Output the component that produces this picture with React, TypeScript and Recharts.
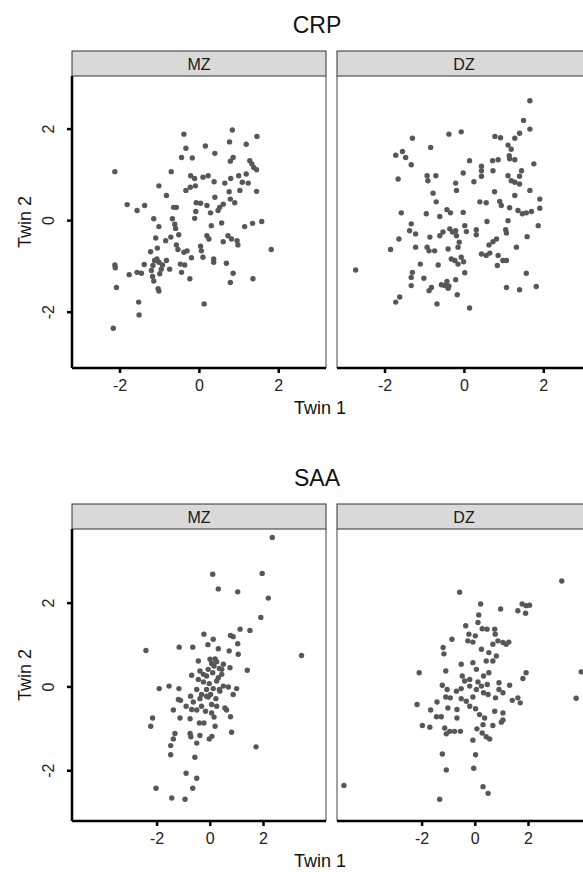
import { Scatter, ScatterChart, XAxis, YAxis } from 'recharts'

// twin pairs: [Twin 1, Twin 2]
const crpMz: [number, number][] = [
  [-2.13, 1.07], [-0.39, 1.89], [0.83, 1.98], [1.45, 1.84], [-0.34, 1.58], [0.15, 1.63], [0.76, 1.72], [1.18, 1.67], [-0.45, 1.38], [-0.18, 1.37],
  [0.39, 1.47], [0.85, 1.38], [0.78, 1.3], [1.27, 1.31], [1.32, 1.24], [1.37, 1.16], [1.44, 1.11], [-0.71, 1.07], [-0.22, 0.98], [-0.12, 0.92],
  [0.09, 0.95], [0.22, 0.98], [0.37, 0.85], [0.64, 0.82], [0.79, 0.92], [0.99, 0.98], [1.18, 1.02], [1.08, 0.84], [1.23, 0.82], [-1.02, 0.76],
  [-0.34, 0.66], [-0.23, 0.73], [-0.1, 0.76], [0.39, 0.51], [0.75, 0.63], [1.02, 0.66], [1.44, 0.64], [-0.83, 0.55], [0.78, 0.47], [0.89, 0.39],
  [0.6, 0.36], [0.51, 0.29], [0.47, 0.22], [-1.82, 0.35], [-1.57, 0.22], [-1.38, 0.33], [-0.65, 0.29], [-0.58, 0.29], [-0.08, 0.39], [0.03, 0.38],
  [0.19, 0.33], [-0.09, 0.2], [0.28, 0.17], [-0.68, 0.04], [-0.62, -0.08], [-0.6, -0.17], [-1.15, 0.04], [-1.02, -0.13], [-0.12, 0.05], [0.3, -0.11],
  [0.56, -0.05], [1.14, -0.13], [1.34, -0.06], [1.57, -0.02], [-1.1, -0.38], [-0.85, -0.44], [-0.72, -0.36], [-0.52, -0.31], [0.19, -0.33], [0.24, -0.4],
  [0.6, -0.46], [0.72, -0.33], [0.81, -0.4], [0.95, -0.44], [0.97, -0.53], [1.81, -0.63], [-1.23, -0.68], [-1.06, -0.6], [-0.58, -0.53], [-0.54, -0.63],
  [-0.39, -0.69], [-0.31, -0.66], [0.03, -0.56], [0.05, -0.66], [-0.2, -0.81], [0.09, -0.8], [0.36, -0.84], [0.36, -0.91], [0.68, -0.93], [-1.39, -0.96],
  [-2.13, -0.97], [-2.12, -1.03], [-1.77, -1.18], [-1.57, -1.13], [-1.46, -1.15], [-1.21, -1.09], [-1.18, -1.22], [-1.07, -0.84], [-1.02, -0.91], [-0.96, -1.06],
  [-1.0, -1.16], [-0.83, -0.87], [-0.75, -1.06], [-0.48, -0.95], [-0.37, -0.97], [-0.45, -1.13], [-0.24, -1.27], [0.85, -1.15], [0.78, -1.35], [1.35, -1.27],
  [-2.09, -1.46], [-1.15, -1.32], [-1.04, -1.49], [-1.02, -1.54], [-1.53, -1.78], [-1.52, -2.06], [0.12, -1.82], [-2.17, -2.35], [-1.17, -0.98], [-1.13, -0.87],
  [-0.93, -0.97],
]

const crpDz: [number, number][] = [
  [1.65, 2.62], [1.49, 2.19], [1.65, 2.0], [1.39, 1.91], [1.27, 1.8], [-1.31, 1.8], [-0.39, 1.89], [-0.08, 1.94], [0.77, 1.84], [0.91, 1.81],
  [1.1, 1.65], [1.18, 1.56], [-0.85, 1.6], [-1.73, 1.43], [-1.56, 1.51], [-1.48, 1.38], [-1.34, 1.22], [-1.67, 0.91], [0.13, 1.31], [0.43, 1.19],
  [0.43, 1.09], [0.71, 1.31], [0.85, 1.33], [1.13, 1.42], [1.14, 1.35], [1.27, 1.33], [1.75, 1.24], [0.72, 1.09], [0.43, 0.97], [-0.03, 1.04],
  [0.24, 0.85], [-0.94, 0.98], [-0.72, 0.98], [-0.92, 0.87], [-0.22, 0.82], [-0.2, 0.66], [1.1, 0.98], [1.18, 0.87], [1.44, 1.09], [1.39, 0.97],
  [1.27, 0.84], [1.39, 0.8], [0.76, 0.63], [1.65, 0.66], [-0.79, 0.6], [-0.71, 0.41], [0.39, 0.41], [0.55, 0.39], [0.89, 0.42], [0.93, 0.33],
  [1.14, 0.28], [1.27, 0.55], [1.9, 0.47], [1.9, 0.27], [1.35, 0.22], [1.46, 0.15], [1.56, 0.17], [1.69, 0.2], [-1.59, 0.17], [-0.96, 0.15],
  [-0.62, 0.09], [-0.44, 0.24], [-0.35, 0.17], [-0.03, 0.18], [0.57, -0.02], [1.1, 0.0], [1.86, -0.11], [-1.34, -0.07], [-1.38, -0.22], [-1.23, -0.29],
  [-0.87, -0.36], [-0.62, -0.33], [-0.54, -0.25], [-0.37, -0.18], [-0.3, -0.25], [-0.22, -0.22], [-0.2, -0.33], [-0.13, -0.47], [0.01, -0.11], [0.05, -0.24],
  [0.3, -0.2], [0.3, -0.31], [1.04, -0.2], [1.06, -0.27], [1.58, -0.35], [-1.65, -0.4], [-1.86, -0.63], [-1.23, -0.58], [-0.94, -0.58], [-0.89, -0.66],
  [-0.75, -0.66], [-0.41, -0.62], [-0.16, -0.58], [0.81, -0.4], [0.72, -0.46], [0.62, -0.53], [1.31, -0.58], [0.43, -0.73], [0.55, -0.76], [0.64, -0.71],
  [0.85, -0.76], [0.97, -0.87], [1.06, -0.87], [-1.11, -0.95], [-0.66, -0.97], [-0.33, -0.84], [-0.24, -0.87], [-0.08, -0.8], [-0.02, -0.9], [-0.16, -0.95],
  [0.83, -0.98], [-2.74, -1.08], [-1.31, -1.13], [-1.34, -1.24], [-1.34, -1.42], [-1.02, -1.26], [-0.89, -1.53], [-0.83, -1.46], [-0.58, -1.4], [-0.5, -1.42],
  [-0.44, -1.33], [-0.39, -1.43], [-0.22, -1.29], [0.01, -1.14], [1.56, -1.15], [1.06, -1.46], [1.39, -1.51], [1.81, -1.44], [-1.63, -1.67], [-1.73, -1.78],
  [-0.69, -1.82], [-0.18, -1.62], [0.13, -1.91], [-0.41, -1.48],
]

const saaMz: [number, number][] = [
  [2.33, 3.57], [0.09, 2.69], [1.95, 2.71], [0.3, 2.34], [1.03, 2.27], [2.18, 2.12], [1.9, 1.66], [1.12, 1.38], [1.49, 1.35], [-0.24, 1.26],
  [0.11, 1.14], [0.76, 1.23], [0.86, 1.2], [1.03, 1.03], [-2.42, 0.87], [-1.17, 0.95], [-0.66, 0.95], [-0.09, 1.01], [0.3, 0.91], [0.71, 0.86],
  [1.05, 0.78], [3.43, 0.75], [-0.45, 0.62], [-0.01, 0.66], [0.18, 0.67], [0.24, 0.6], [0.49, 0.54], [0.74, 0.46], [0.14, 0.5], [-0.08, 0.42],
  [1.39, 0.4], [-0.7, 0.28], [-0.39, 0.38], [-0.14, 0.26], [0.09, 0.34], [0.43, 0.3], [-1.92, -0.04], [-1.55, 0.02], [-1.18, -0.04], [-0.45, 0.18],
  [-0.26, 0.12], [-0.04, 0.08], [0.24, 0.14], [0.49, 0.02], [0.68, 0.0], [0.99, -0.04], [0.86, -0.18], [-0.51, -0.06], [-0.14, -0.06], [0.11, -0.04],
  [0.36, -0.1], [-0.74, -0.22], [-1.2, -0.3], [-1.12, -0.32], [-0.64, -0.36], [-0.39, -0.28], [-0.08, -0.24], [0.21, -0.28], [0.05, -0.42], [0.24, -0.46],
  [0.55, -0.5], [-1.39, -0.55], [-0.7, -0.54], [-0.51, -0.55], [-0.18, -0.58], [0.61, -0.55], [-2.17, -0.74], [-1.14, -0.74], [-0.76, -0.76], [-0.41, -0.86],
  [-0.24, -0.86], [0.18, -0.94], [0.76, -0.71], [-2.24, -0.94], [-1.33, -1.11], [-1.39, -1.24], [-0.76, -1.11], [-0.73, -1.19], [-0.51, -1.34], [-0.39, -1.16],
  [-0.04, -1.24], [0.06, -1.18], [0.8, -1.08], [1.72, -1.43], [-1.49, -1.4], [-1.49, -1.62], [-0.58, -1.68], [-0.91, -2.06], [-0.51, -2.18], [-2.04, -2.42],
  [-0.66, -2.42], [-1.45, -2.65], [-0.95, -2.68], [-0.14, -0.22], [0.3, 0.22], [0.43, 0.42], [-0.91, -0.46], [-0.33, -0.18], [0.14, -0.72], [0.05, -0.62],
  [0.05, 0.56], [0.34, 0.44], [-0.26, 0.3], [0.01, -0.18], [-0.33, -0.46], [0.34, -0.06],
]

const saaDz: [number, number][] = [
  [3.25, 2.53], [-0.59, 2.26], [0.2, 1.98], [0.95, 1.86], [1.6, 1.82], [1.76, 1.98], [1.91, 1.94], [2.04, 1.95], [1.89, 1.76], [0.13, 1.72],
  [0.1, 1.54], [-0.36, 1.46], [0.26, 1.39], [0.44, 1.38], [0.73, 1.38], [0.75, 1.26], [-0.24, 1.26], [0.0, 1.22], [0.66, 1.02], [0.85, 1.1],
  [1.04, 1.06], [1.26, 1.07], [1.16, 1.02], [-0.88, 1.14], [-1.21, 0.94], [-1.18, 0.79], [-0.28, 1.1], [-0.09, 1.07], [0.23, 0.9], [0.51, 0.82],
  [0.79, 0.74], [0.66, 0.62], [0.41, 0.62], [-2.11, 0.34], [-1.11, 0.38], [-0.53, 0.54], [-0.09, 0.58], [0.04, 0.42], [-0.49, 0.26], [-0.4, 0.14],
  [-0.21, 0.18], [0.1, 0.12], [0.31, 0.26], [0.51, 0.34], [1.91, 0.34], [1.79, 0.2], [3.98, 0.36], [-1.24, 0.04], [-1.06, -0.06], [-0.71, -0.1],
  [-0.53, -0.04], [-0.21, 0.02], [0.04, -0.06], [0.23, 0.02], [0.45, 0.06], [0.89, 0.1], [0.89, -0.06], [1.29, 0.04], [-2.19, -0.42], [-1.44, -0.36],
  [-1.11, -0.24], [-0.94, -0.26], [-0.53, -0.28], [-0.34, -0.34], [-0.09, -0.24], [0.31, -0.14], [0.48, -0.18], [0.76, -0.26], [1.04, -0.14], [1.39, -0.32],
  [1.6, -0.26], [1.69, -0.38], [3.79, -0.27], [-1.68, -0.55], [-1.46, -0.71], [-1.28, -0.71], [-1.03, -0.5], [-0.69, -0.54], [-0.69, -0.74], [-0.21, -0.46],
  [0.01, -0.52], [0.16, -0.66], [0.35, -0.74], [0.73, -0.58], [1.04, -0.62], [1.04, -0.79], [-1.99, -0.92], [-1.71, -0.96], [-1.15, -0.98], [-0.96, -1.06],
  [-0.78, -1.06], [-0.56, -1.06], [0.06, -1.0], [0.29, -0.9], [0.66, -0.92], [0.98, -0.84], [-1.09, -1.12], [-0.09, -1.27], [0.26, -1.1], [0.41, -1.19],
  [0.54, -1.24], [-1.24, -1.6], [0.01, -1.62], [-1.09, -1.98], [-0.06, -1.94], [-4.94, -2.35], [0.29, -2.38], [0.48, -2.54], [-1.34, -2.68],
]

const ticks = [-2, 0, 2]
const crpXDomain = [-3.21, 3.19]
const crpYDomain = [-3.22, 3.16]
const saaXDomain = [-5.2, 4.35]
const saaYDomain = [-3.2, 3.77]

const FONT = '"Liberation Sans", Arial, Helvetica, sans-serif'
const PANEL_W = 254
const Y_AXIS_W = 45
const X_AXIS_H = 30

function Dot(props: any) {
  return <circle cx={props.cx} cy={props.cy} r={2.7} fill="#575757" />
}

function YTick({ y, payload }: any) {
  // rotated labels, centred ~24px left of the axis line
  return (
    <text
      transform={`translate(${Y_AXIS_W - 24},${y}) rotate(-90)`}
      textAnchor="middle"
      dominantBaseline="central"
      fontSize={16}
      fontFamily={FONT}
      fill="#222"
    >
      {payload.value}
    </text>
  )
}

interface PanelProps {
  pairs: [number, number][]
  left: number
  top: number
  height: number
  xDomain: number[]
  yDomain: number[]
  showY: boolean
}

function Panel({ pairs, left, top, height, xDomain, yDomain, showY }: PanelProps) {
  const data = pairs.map(([a, b]) => ({ twin1: a, twin2: b }))
  const yw = showY ? Y_AXIS_W : 0
  return (
    <div style={{ position: 'absolute', left: left - yw, top }}>
      <ScatterChart
        width={PANEL_W + yw}
        height={height + X_AXIS_H}
        margin={{ top: 0, right: 0, bottom: 0, left: 0 }}
      >
        <XAxis
          type="number"
          dataKey="twin1"
          domain={xDomain}
          ticks={ticks}
          allowDataOverflow
          height={X_AXIS_H}
          axisLine={{ stroke: '#000', strokeWidth: 2.5 }}
          tickLine={{ stroke: '#000', strokeWidth: 2.5 }}
          tickSize={5}
          tickMargin={7}
          tick={{ fill: '#222', fontSize: 16, fontFamily: FONT }}
        />
        <YAxis
          type="number"
          dataKey="twin2"
          domain={yDomain}
          ticks={ticks}
          allowDataOverflow
          hide={!showY}
          width={yw}
          axisLine={{ stroke: '#000', strokeWidth: 2.5 }}
          tickLine={{ stroke: '#000', strokeWidth: 2.5 }}
          tickSize={5}
          tick={<YTick />}
        />
        <Scatter data={data} isAnimationActive={false} shape={Dot} />
      </ScatterChart>
    </div>
  )
}

function Figure({ title, top, mz, dz, xDomain, yDomain }: any) {
  // top = y of the title centre; strip and panel follow below it
  const stripTop = top + 26
  const plotTop = stripTop + 25
  const plotH = 292
  return (
    <>
      <svg
        width={583}
        height={872}
        style={{ position: 'absolute', left: 0, top: 0 }}
        fontFamily={FONT}
      >
        <text x={317} y={top} textAnchor="middle" dominantBaseline="central" fontSize={23} fill="#111">
          {title}
        </text>
        {[
          { label: 'MZ', x: 72 },
          { label: 'DZ', x: 337 },
        ].map(s => (
          <g key={s.label}>
            <rect x={s.x} y={stripTop} width={PANEL_W} height={25} fill="#d9d9d9" stroke="#333" strokeWidth={1} />
            <text x={s.x + PANEL_W / 2} y={stripTop + 13} textAnchor="middle" dominantBaseline="central" fontSize={16} fill="#1a1a1a">
              {s.label}
            </text>
          </g>
        ))}
        <line x1={326} y1={plotTop} x2={326} y2={plotTop + plotH} stroke="#444" strokeWidth={1} />
        <line x1={337} y1={plotTop} x2={337} y2={plotTop + plotH} stroke="#444" strokeWidth={1} />
        <text
          transform={`translate(25,${plotTop + plotH / 2}) rotate(-90)`}
          textAnchor="middle"
          dominantBaseline="central"
          fontSize={18}
          fill="#111"
        >
          Twin 2
        </text>
        <text x={320} y={plotTop + plotH + 40} textAnchor="middle" dominantBaseline="central" fontSize={18} fill="#111">
          Twin 1
        </text>
      </svg>
      <Panel pairs={mz} left={72} top={plotTop} height={plotH} xDomain={xDomain} yDomain={yDomain} showY />
      <Panel pairs={dz} left={337} top={plotTop} height={plotH} xDomain={xDomain} yDomain={yDomain} showY={false} />
    </>
  )
}

export default function App() {
  return (
    <div
      style={{
        position: 'absolute',
        left: 0,
        top: 0,
        width: 583,
        height: 872,
        overflow: 'hidden',
        background: '#fff',
      }}
    >
      <Figure title="CRP" top={25} mz={crpMz} dz={crpDz} xDomain={crpXDomain} yDomain={crpYDomain} />
      <Figure title="SAA" top={478} mz={saaMz} dz={saaDz} xDomain={saaXDomain} yDomain={saaYDomain} />
    </div>
  )
}
